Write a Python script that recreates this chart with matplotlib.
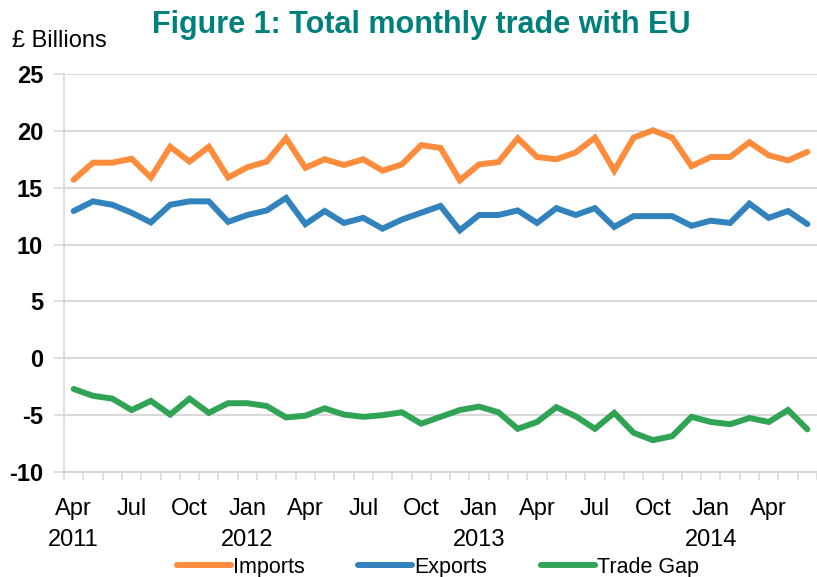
import matplotlib
matplotlib.use("Agg")
import matplotlib.pyplot as plt
from matplotlib.ticker import FixedLocator, NullFormatter

plt.rcParams['font.family'] = ['Liberation Sans', 'DejaVu Sans']

months = ["Apr", "May", "Jun", "Jul", "Aug", "Sep", "Oct", "Nov", "Dec",
          "Jan", "Feb", "Mar"] * 3 + ["Apr", "May", "Jun"]
years = {0: "2011", 9: "2012", 21: "2013", 33: "2014"}

imports = [15.7, 17.2, 17.2, 17.55, 15.9, 18.6, 17.3, 18.6, 15.9, 16.8,
           17.3, 19.35, 16.75, 17.5, 17.0, 17.5, 16.5, 17.05, 18.75, 18.5,
           15.65, 17.05, 17.25, 19.35, 17.7, 17.5, 18.1, 19.4, 16.5, 19.4,
           20.05, 19.4, 16.9, 17.7, 17.7, 19.0, 17.85, 17.4, 18.15]
exports = [12.95, 13.8, 13.5, 12.8, 11.95, 13.5, 13.8, 13.8, 12.0, 12.6,
           13.0, 14.1, 11.8, 12.95, 11.9, 12.35, 11.4, 12.2, 12.8, 13.4,
           11.25, 12.6, 12.6, 13.0, 11.9, 13.2, 12.6, 13.2, 11.55, 12.5,
           12.5, 12.5, 11.65, 12.1, 11.9, 13.6, 12.35, 12.95, 11.8]
trade_gap = [-2.7, -3.3, -3.55, -4.55, -3.75, -4.95, -3.55, -4.8, -3.95, -3.95,
             -4.2, -5.2, -5.05, -4.4, -4.95, -5.15, -5.0, -4.75, -5.75, -5.15,
             -4.55, -4.25, -4.75, -6.2, -5.6, -4.3, -5.1, -6.2, -4.8, -6.55,
             -7.2, -6.85, -5.15, -5.6, -5.8, -5.25, -5.6, -4.55, -6.25]

series = [("Imports", imports, "#fd8d3c"),
          ("Exports", exports, "#3182bd"),
          ("Trade Gap", trade_gap, "#31a354")]

fig = plt.figure(figsize=(8.17, 5.77), dpi=100)
ax = fig.add_axes([64 / 817, 1 - 472 / 577, 1 - 64 / 817, (472 - 74) / 577])

x = list(range(len(months)))
for name, vals, col in series:
    ax.plot(x, vals, color=col, lw=4.3, label=name,
            solid_joinstyle='miter', solid_capstyle='round')

ax.set_xlim(-0.5, len(months) - 0.5)
ax.set_ylim(-10, 25)
ax.set_yticks(range(-10, 26, 5))
ax.set_yticklabels([str(v) for v in range(-10, 26, 5)], fontsize=17, fontweight='bold')
ax.yaxis.grid(True, color='#d9d9d9', lw=1.5)
ax.set_axisbelow(True)

major = [i for i in x if i % 3 == 0]
labels = [months[i] + ("\n" + years[i] if i in years else "") for i in major]
ax.set_xticks(major)
ax.set_xticklabels(labels, fontsize=17, linespacing=1.5, va='top')
ax.xaxis.set_minor_locator(FixedLocator([i - 0.5 for i in range(len(months) + 1)]))
ax.xaxis.set_minor_formatter(NullFormatter())
ax.tick_params(axis='x', which='major', length=0, pad=19)
ax.tick_params(axis='x', which='minor', length=6, color='#d9d9d9', width=1.2)
ax.tick_params(axis='y', length=7, color='#d9d9d9', width=1.2, pad=8)

for s in ['top', 'right']:
    ax.spines[s].set_visible(False)
ax.spines['left'].set_color('#d9d9d9')
ax.spines['bottom'].set_color('#d9d9d9')
ax.spines['left'].set_linewidth(1.2)
ax.spines['bottom'].set_linewidth(1.5)

fig.text(421 / 817, 1 - 25 / 577, "Figure 1: Total monthly trade with EU",
         ha='center', va='center', fontsize=22, fontweight='bold', color='#00807a')
fig.text(12 / 817, 1 - 41 / 577, "£ Billions", ha='left', va='center', fontsize=17)

fig.legend(loc='center', bbox_to_anchor=(438 / 817, 1 - 567 / 577), ncol=3,
           frameon=False, fontsize=15.5, handlelength=2.5, handletextpad=0.1,
           columnspacing=2.5, borderpad=0)

fig.savefig("out.png", dpi=100)
